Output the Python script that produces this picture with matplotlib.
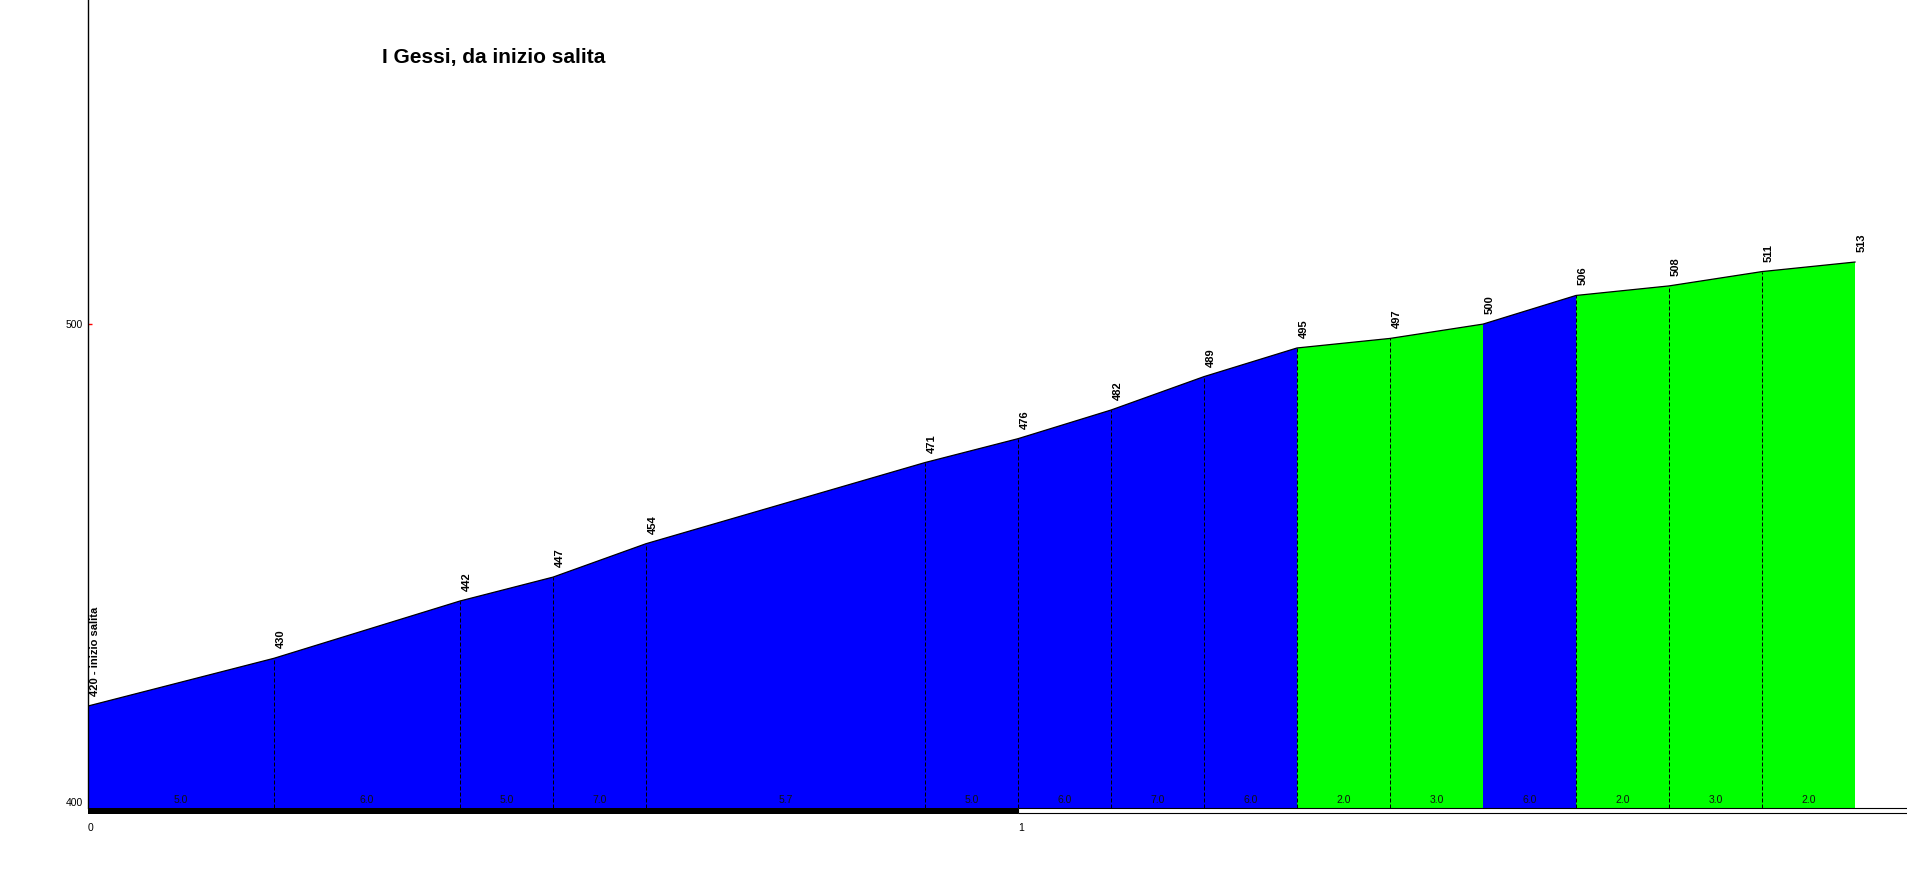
import matplotlib
matplotlib.use("Agg")
import matplotlib.pyplot as plt
import matplotlib.transforms as mtransforms
from matplotlib.patches import Rectangle

plt.rcParams['font.family'] = ['Liberation Sans', 'DejaVu Sans']

# profilo altimetrico: km progressivi e quote (m)
dist_km = [0.0, 0.2, 0.4, 0.5, 0.6, 0.9, 1.0, 1.1, 1.2, 1.3, 1.4, 1.5, 1.6, 1.7, 1.8, 1.9]
quote = [420, 430, 442, 447, 454, 471, 476, 482, 489, 495, 497, 500, 506, 508, 511, 513]
etichette = ["420 - inizio salita"] + [str(q) for q in quote[1:]]
titolo = "I Gessi, da inizio salita"
yticks = [400, 500]
xticks = [0, 1]

W, H = 1908, 873
fig = plt.figure(figsize=(W / 100, H / 100), dpi=100)
ax = fig.add_axes([88 / W, (H - 808) / H, 1 - 88 / W, 808 / H])

px_m = 4.774            # pixel per metro
y0 = 400 - 6.5 / px_m
ax.set_ylim(y0, y0 + 808 / px_m)
ax.set_xlim(0, (W - 88) / 930)

# pendenze per tratto
pend = []
for i in range(len(quote) - 1):
    pend.append((quote[i + 1] - quote[i]) / ((dist_km[i + 1] - dist_km[i]) * 10))

def colore(p):
    return '#00ff00' if p < 4 else '#0000ff'

for i, p in enumerate(pend):
    xs = [dist_km[i], dist_km[i + 1]]
    ax.fill_between(xs, [quote[i], quote[i + 1]], 0, color=colore(p), lw=0, zorder=1)
    ax.text((xs[0] + xs[1]) / 2, 400.3, "%.1f" % p, ha='center', va='center',
            fontsize=7.5, color='#111111', zorder=4)

# linee tratteggiate ai cambi di tratto
for i in range(1, len(quote) - 1):
    if colore(pend[i - 1]) == '#00ff00' and colore(pend[i]) == '#0000ff':
        continue
    ax.plot([dist_km[i], dist_km[i]], [0, quote[i]], color='black', lw=0.72,
            ls=(0, (4, 2)), zorder=2)

ax.plot(dist_km, quote, color='black', lw=0.9, zorder=3)

for d, q, lab in zip(dist_km, quote, etichette):
    ax.annotate(lab, (d, q), xytext=(7, 10), textcoords='offset pixels',
                rotation=90, ha='center', va='bottom', fontsize=8,
                fontweight='bold', color='black')

# barra chilometrica sotto l'asse
tr = mtransforms.blended_transform_factory(ax.transData, ax.transAxes)
hb = 6 / 808
ax.add_patch(Rectangle((0, -hb), 1, hb, transform=tr, facecolor='black',
                       edgecolor='none', clip_on=False, zorder=3))
ax.add_patch(Rectangle((1, -hb + 0.6 / 808), 2, hb - 0.6 / 808, transform=tr,
                       facecolor='white', edgecolor='black', lw=0.8,
                       clip_on=False, zorder=3))

for s in ['top', 'right', 'bottom']:
    ax.spines[s].set_visible(False)
ax.spines['left'].set_linewidth(1.0)
ax.set_axisbelow(True)

ax.set_yticks(yticks)
ax.tick_params(axis='y', direction='in', length=3, color='red', width=1,
               labelsize=7.5, pad=3.6)
ax.set_xticks(xticks)
ax.set_xticklabels([str(x) for x in xticks])
ax.tick_params(axis='x', length=0, labelsize=7.5, pad=11)
plt.setp(ax.get_xticklabels(), ha='left')

fig.text(382 / W, 1 - 63.3 / H, titolo, fontsize=15, fontweight='bold',
         ha='left', va='baseline')

fig.savefig("out.png", dpi=100)
